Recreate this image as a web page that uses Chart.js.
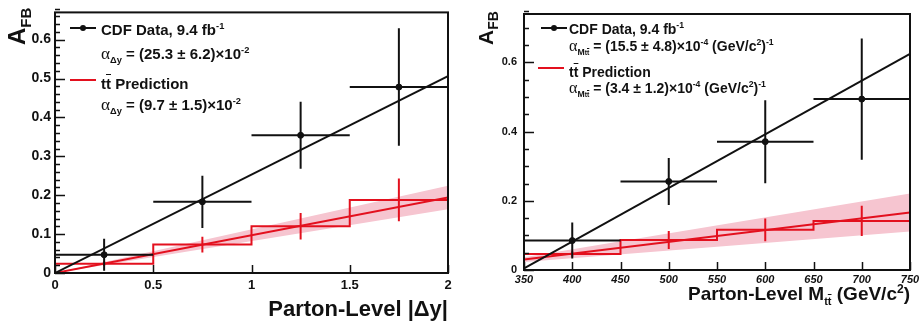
<!DOCTYPE html>
<html>
<head>
<meta charset="utf-8">
<title>A_FB vs |Δy| and M_tt</title>
<script src="https://cdn.jsdelivr.net/npm/chart.js@4.4.0/dist/chart.umd.min.js"></script>
<style>
  body { margin: 0; width: 924px; height: 321px; background: #fff; position: relative; overflow: hidden;
         font-family: 'Liberation Sans', Arial, sans-serif; font-weight: bold; color: #111; }
  canvas { position: absolute; top: 0; }
  .txt { position: absolute; white-space: nowrap; line-height: 1; }
  .greek { font-family: 'Liberation Serif', serif; font-weight: normal; font-size: 1.15em; }
  .ov { text-decoration: overline; text-decoration-thickness: 1px; }
  sub, sup { line-height: 0; font-size: 0.62em; }
  .key { position: absolute; height: 2px; }
  .dot { position: absolute; width: 6px; height: 6px; border-radius: 50%; background: #111; }
  .ytitle { position: absolute; transform-origin: 0 0; transform: rotate(-90deg); white-space: nowrap; line-height: 1; }
</style>
</head>
<body>
<canvas id="dyChart" width="462" height="321" style="left:0"></canvas>
<canvas id="mChart" width="462" height="321" style="left:462px"></canvas>

<!-- left panel labels -->
<div class="ytitle" style="left:5px; top:45px; font-size:24px">A<sub style="font-size:15px">FB</sub></div>
<div class="txt" style="right:476px; top:298px; font-size:22px">Parton-Level |Δy|</div>
<div class="key" style="left:70px; top:27px; width:26px; background:#111"></div>
<div class="dot" style="left:80px; top:25px"></div>
<div class="txt" style="left:101px; top:22px; font-size:15px">CDF Data, 9.4 fb<sup>-1</sup></div>
<div class="txt" style="left:101px; top:45px; font-size:15px"><span class="greek">α</span><sub>Δy</sub> = (25.3 ± 6.2)×10<sup>-2</sup></div>
<div class="key" style="left:70px; top:79px; width:26px; background:#e3101e"></div>
<div class="txt" style="left:101px; top:76px; font-size:15px">t<span class="ov">t</span> Prediction</div>
<div class="txt" style="left:101px; top:96px; font-size:15px"><span class="greek">α</span><sub>Δy</sub> = (9.7 ± 1.5)×10<sup>-2</sup></div>

<!-- right panel labels -->
<div class="ytitle" style="left:475px; top:45px; font-size:21px">A<sub style="font-size:14px">FB</sub></div>
<div class="txt" style="right:14px; top:284px; font-size:19px">Parton-Level M<sub style="font-size:11px">t<span class="ov">t</span></sub> (GeV/c<sup style="font-size:12px">2</sup>)</div>
<div class="key" style="left:541px; top:27px; width:26px; background:#111"></div>
<div class="dot" style="left:551px; top:25px"></div>
<div class="txt" style="left:569px; top:22px; font-size:14px">CDF Data, 9.4 fb<sup>-1</sup></div>
<div class="txt" style="left:569px; top:38px; font-size:14px"><span class="greek">α</span><sub>M<span style="font-size:0.8em">t<span class="ov">t</span></span></sub> = (15.5 ± 4.8)×10<sup>-4</sup> (GeV/c<sup>2</sup>)<sup>-1</sup></div>
<div class="key" style="left:538px; top:67px; width:26px; background:#e3101e"></div>
<div class="txt" style="left:569px; top:65px; font-size:14px">t<span class="ov">t</span> Prediction</div>
<div class="txt" style="left:569px; top:80px; font-size:14px"><span class="greek">α</span><sub>M<span style="font-size:0.8em">t<span class="ov">t</span></span></sub> = (3.4 ± 1.2)×10<sup>-4</sup> (GeV/c<sup>2</sup>)<sup>-1</sup></div>

<script>
// |Δy| bins
const dyEdges = [0, 0.5, 1, 1.5, 2];
const dyData = [0.047, 0.183, 0.354, 0.478];
const dyDataErr = [0.041, 0.067, 0.086, 0.151];
const dyPred = [0.024, 0.073, 0.120, 0.188];
const dyPredErr = [0.006, 0.020, 0.034, 0.055];
// linear fits: A_FB = alpha * |Δy|
const dyAlphaData = 0.253;
const dyAlphaPred = 0.097;
const dyAlphaPredErr = 0.015;

// M_tt bins (GeV/c^2)
const mEdges = [350, 450, 550, 650, 750];
const mData = [0.085, 0.256, 0.371, 0.494];
const mDataErr = [0.052, 0.068, 0.120, 0.175];
const mPred = [0.046, 0.087, 0.116, 0.142];
const mPredErr = [0.008, 0.026, 0.033, 0.044];
// linear fits: A_FB = a0 + alpha * (M - 350)
const mA0Data = 0.005;
const mAlphaData = 15.5e-4;
const mA0Pred = 0.030;
const mA0PredErr = 0.007;
const mAlphaPred = 3.4e-4;
const mAlphaPredErr = 1.2e-4;

const BLACK = '#111111';
const RED = '#e3101e';
const PINK = '#f6c5d0';

function fitLine(x0, x1, a0, alpha) {
  return [{x: x0, y: a0}, {x: x1, y: a0 + alpha * (x1 - x0)}];
}

// horizontal steps for a histogram
function histPoints(edges, values) {
  const pts = [];
  values.forEach((v, i) => {
    pts.push({x: edges[i], y: v}, {x: edges[i + 1], y: v});
  });
  return pts;
}

// error bar segments separated by gaps
function errorPoints(edges, values, errors, withX) {
  const pts = [];
  values.forEach((v, i) => {
    const c = (edges[i] + edges[i + 1]) / 2;
    if (withX) pts.push({x: edges[i], y: v}, {x: edges[i + 1], y: v}, {x: c, y: null});
    pts.push({x: c, y: v - errors[i]}, {x: c, y: v + errors[i]}, {x: c, y: null});
  });
  return pts;
}

function centers(edges, values) {
  return values.map((v, i) => ({x: (edges[i] + edges[i + 1]) / 2, y: v}));
}

function lineSet(data, color, width, order, extra) {
  return Object.assign({
    type: 'line', data: data, borderColor: color, borderWidth: width,
    pointRadius: 0, fill: false, tension: 0, order: order, spanGaps: false
  }, extra || {});
}

// plain number labels: 0, 0.5, 1 ...
const plainLabel = v => String(+Number(v).toFixed(3));

// frame and inward tick marks, ROOT style
const frameTicks = {
  id: 'frameTicks',
  afterDatasetsDraw(chart, args, opts) {
    const {ctx, chartArea: a, scales: {x, y}} = chart;
    ctx.save();
    ctx.strokeStyle = BLACK;
    ctx.lineWidth = 1.5;
    ctx.beginPath();
    const ny = Math.round((y.max - y.min) / opts.yMinor);
    for (let i = 0; i <= ny; i++) {
      const v = y.min + i * opts.yMinor;
      const major = Math.abs(v / opts.yMajor - Math.round(v / opts.yMajor)) < 1e-6;
      const py = Math.round(y.getPixelForValue(v)) + 0.5;
      ctx.moveTo(a.left, py);
      ctx.lineTo(a.left + (major ? 10 : 5), py);
    }
    const nx = Math.round((x.max - x.min) / opts.xMinor);
    for (let i = 0; i <= nx; i++) {
      const v = x.min + i * opts.xMinor;
      const major = Math.abs((v - x.min) / opts.xMajor - Math.round((v - x.min) / opts.xMajor)) < 1e-6;
      const px = Math.round(x.getPixelForValue(v)) + 0.5;
      ctx.moveTo(px, a.bottom);
      ctx.lineTo(px, a.bottom - (major ? 8 : 4));
    }
    ctx.stroke();
    ctx.lineWidth = 2;
    ctx.strokeRect(a.left, a.top, a.right - a.left, a.bottom - a.top);
    ctx.restore();
  }
};

function makeChart(id, p) {
  const datasets = [
    lineSet(p.bandLo, 'rgba(0,0,0,0)', 0, 10),
    lineSet(p.bandHi, 'rgba(0,0,0,0)', 0, 9, {fill: '-1', backgroundColor: PINK}),
    lineSet(histPoints(p.edges, p.pred), RED, 2, 8),
    lineSet(p.fitPred, RED, 2, 7),
    lineSet(errorPoints(p.edges, p.pred, p.predErr, false), RED, 2, 6),
    lineSet(errorPoints(p.edges, p.data, p.dataErr, true), BLACK, 2, 5),
    lineSet(p.fitData, BLACK, 2, 4),
    {type: 'scatter', data: centers(p.edges, p.data), backgroundColor: BLACK,
     borderColor: BLACK, pointRadius: 3, order: 1}
  ];
  return new Chart(document.getElementById(id), {
    type: 'line',
    data: {datasets: datasets},
    options: {
      responsive: false,
      animation: false,
      layout: {padding: p.padding},
      plugins: {legend: {display: false}, tooltip: {enabled: false}, frameTicks: p.ticks},
      scales: {
        x: {
          type: 'linear', min: p.edges[0], max: p.edges[p.edges.length - 1],
          grid: {display: false, drawTicks: false}, border: {display: false},
          afterFit: s => { s.height = p.xHeight; },
          ticks: {stepSize: p.ticks.xMajor, color: BLACK, padding: p.xPad, maxRotation: 0,
                  autoSkip: false, includeBounds: false, callback: plainLabel,
                  font: {family: 'Liberation Sans', weight: 'bold', size: p.xFont, style: p.xStyle}}
        },
        y: {
          type: 'linear', min: 0, max: p.yMax,
          grid: {display: false, drawTicks: false}, border: {display: false},
          afterFit: s => { s.width = p.yWidth; },
          ticks: {stepSize: p.ticks.yMajor, color: BLACK, padding: p.yPad, includeBounds: false,
                  callback: plainLabel,
                  font: {family: 'Liberation Sans', weight: 'bold', size: p.yFont}}
        }
      }
    },
    plugins: [frameTicks]
  });
}

const dyX0 = dyEdges[0], dyX1 = dyEdges[dyEdges.length - 1];
makeChart('dyChart', {
  edges: dyEdges, data: dyData, dataErr: dyDataErr, pred: dyPred, predErr: dyPredErr,
  fitData: fitLine(dyX0, dyX1, 0, dyAlphaData),
  fitPred: fitLine(dyX0, dyX1, 0, dyAlphaPred),
  bandLo: fitLine(dyX0, dyX1, 0, dyAlphaPred - dyAlphaPredErr),
  bandHi: fitLine(dyX0, dyX1, 0, dyAlphaPred + dyAlphaPredErr),
  yMax: 0.67,
  padding: {left: 0, top: 9, right: 14, bottom: 0},
  yWidth: 55, xHeight: 48, xPad: 5, yPad: 4, xFont: 13, yFont: 14, xStyle: 'normal',
  ticks: {yMajor: 0.1, yMinor: 0.02, xMajor: 0.5, xMinor: 0.5}
});

const mX0 = mEdges[0], mX1 = mEdges[mEdges.length - 1];
makeChart('mChart', {
  edges: mEdges, data: mData, dataErr: mDataErr, pred: mPred, predErr: mPredErr,
  fitData: fitLine(mX0, mX1, mA0Data, mAlphaData),
  fitPred: fitLine(mX0, mX1, mA0Pred, mAlphaPred),
  bandLo: fitLine(mX0, mX1, mA0Pred - mA0PredErr, mAlphaPred - mAlphaPredErr),
  bandHi: fitLine(mX0, mX1, mA0Pred + mA0PredErr, mAlphaPred + mAlphaPredErr),
  yMax: 0.74,
  padding: {left: 0, top: 14, right: 14, bottom: 0},
  yWidth: 62, xHeight: 51, xPad: 3, yPad: 7, xFont: 11, yFont: 11, xStyle: 'italic',
  ticks: {yMajor: 0.2, yMinor: 0.05, xMajor: 50, xMinor: 50}
});
</script>
</body>
</html>
